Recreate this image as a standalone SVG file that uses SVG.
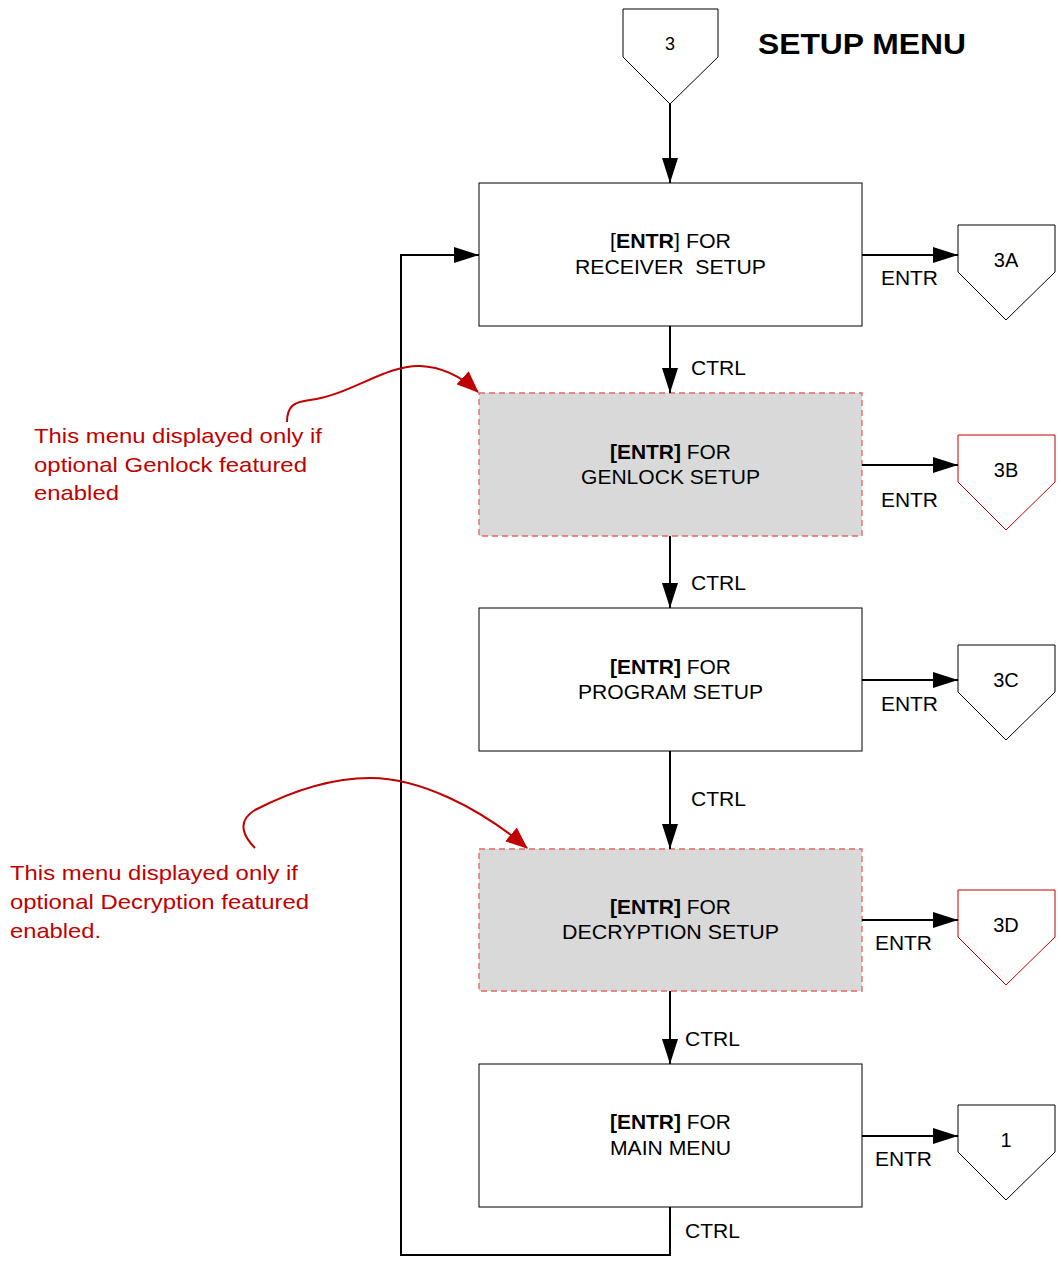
<svg xmlns="http://www.w3.org/2000/svg" width="1061" height="1268" viewBox="0 0 1061 1268">
<style>
text{font-family:"Liberation Sans",Arial,sans-serif;font-size:20px;fill:#000}
.c{text-anchor:middle}
.b{font-weight:bold}
.box{fill:#fff;stroke:#000;stroke-width:1}
.opt{fill:#d9d9d9;stroke:#e06666;stroke-width:1.3;stroke-dasharray:6 4}
.pg{fill:#fff;stroke:#000;stroke-width:1}
.pgr{fill:#fff;stroke:#c00000;stroke-width:1}
.ln{fill:none;stroke:#000;stroke-width:2}
.rl{fill:none;stroke:#c00000;stroke-width:2}
.note{fill:#c00000;font-size:21px}
</style>
<defs>
<marker id="ah" markerWidth="25" markerHeight="16" refX="25" refY="8" orient="auto" markerUnits="userSpaceOnUse"><path d="M0,0 L25,8 L0,16 z" fill="#000"/></marker>
<marker id="ahr" markerWidth="22" markerHeight="18" refX="21" refY="9" orient="auto" markerUnits="userSpaceOnUse"><path d="M0,0 L22,9 L0,18 z" fill="#c00000"/></marker>
</defs>
<text x="758" y="54" class="b" style="font-size:30px" textLength="208" lengthAdjust="spacingAndGlyphs">SETUP MENU</text>
<g id="conn3"><path class="pg" d="M623,9 H718 V57 L670,104 L623,57 Z"/><text x="670" y="50" class="c" style="font-size:18px">3</text></g>
<g id="n1"><rect class="box" x="479" y="183" width="383" height="143"/><text x="610" y="248" textLength="121" lengthAdjust="spacingAndGlyphs">[<tspan class="b">ENTR</tspan>] FOR</text><text x="575" y="274" xml:space="preserve" textLength="191" lengthAdjust="spacingAndGlyphs">RECEIVER  SETUP</text></g>
<g id="n2"><rect class="opt" x="479" y="393" width="383" height="143"/><text x="610" y="459" textLength="121" lengthAdjust="spacingAndGlyphs"><tspan class="b">[ENTR]</tspan> FOR</text><text x="581" y="484" textLength="179" lengthAdjust="spacingAndGlyphs">GENLOCK SETUP</text></g>
<g id="n3"><rect class="box" x="479" y="608" width="383" height="143"/><text x="610" y="674" textLength="121" lengthAdjust="spacingAndGlyphs"><tspan class="b">[ENTR]</tspan> FOR</text><text x="578" y="699" textLength="185" lengthAdjust="spacingAndGlyphs">PROGRAM SETUP</text></g>
<g id="n4"><rect class="opt" x="479" y="849" width="383" height="142"/><text x="610" y="914" textLength="121" lengthAdjust="spacingAndGlyphs"><tspan class="b">[ENTR]</tspan> FOR</text><text x="562" y="939" textLength="217" lengthAdjust="spacingAndGlyphs">DECRYPTION SETUP</text></g>
<g id="n5"><rect class="box" x="479" y="1064" width="383" height="143"/><text x="610" y="1129" textLength="121" lengthAdjust="spacingAndGlyphs"><tspan class="b">[ENTR]</tspan> FOR</text><text x="610" y="1155" textLength="121" lengthAdjust="spacingAndGlyphs">MAIN MENU</text></g>
<g id="c3A"><path class="pg" d="M958,225 H1055 V272 L1006,320 L958,272 Z"/><text x="1006" y="267" class="c">3A</text></g>
<g id="c3B"><path class="pgr" d="M958,435 H1055 V482 L1006,530 L958,482 Z"/><text x="1006" y="477" class="c">3B</text></g>
<g id="c3C"><path class="pg" d="M958,645 H1055 V692 L1006,740 L958,692 Z"/><text x="1006" y="687" class="c">3C</text></g>
<g id="c3D"><path class="pgr" d="M958,890 H1055 V937 L1006,985 L958,937 Z"/><text x="1006" y="932" class="c">3D</text></g>
<g id="c1"><path class="pg" d="M958,1105 H1055 V1152 L1006,1200 L958,1152 Z"/><text x="1006" y="1147" class="c">1</text></g>
<g id="connectors">
<path class="ln" d="M670,104 V183" marker-end="url(#ah)"/>
<path class="ln" d="M670,326 V393" marker-end="url(#ah)"/>
<path class="ln" d="M670,536 V608" marker-end="url(#ah)"/>
<path class="ln" d="M670,751 V849" marker-end="url(#ah)"/>
<path class="ln" d="M670,991 V1064" marker-end="url(#ah)"/>
<path class="ln" d="M670,1207 V1255 H401 V255 H479" marker-end="url(#ah)"/>
<path class="ln" d="M862,255 H958" marker-end="url(#ah)"/>
<path class="ln" d="M862,465 H958" marker-end="url(#ah)"/>
<path class="ln" d="M862,680 H958" marker-end="url(#ah)"/>
<path class="ln" d="M862,920 H958" marker-end="url(#ah)"/>
<path class="ln" d="M862,1136 H958" marker-end="url(#ah)"/>
<text x="691" y="375" textLength="55" lengthAdjust="spacingAndGlyphs">CTRL</text>
<text x="691" y="590" textLength="55" lengthAdjust="spacingAndGlyphs">CTRL</text>
<text x="691" y="806" textLength="55" lengthAdjust="spacingAndGlyphs">CTRL</text>
<text x="685" y="1046" textLength="55" lengthAdjust="spacingAndGlyphs">CTRL</text>
<text x="685" y="1238" textLength="55" lengthAdjust="spacingAndGlyphs">CTRL</text>
<text x="881" y="285" textLength="57" lengthAdjust="spacingAndGlyphs">ENTR</text>
<text x="881" y="507" textLength="57" lengthAdjust="spacingAndGlyphs">ENTR</text>
<text x="881" y="711" textLength="57" lengthAdjust="spacingAndGlyphs">ENTR</text>
<text x="875" y="950" textLength="57" lengthAdjust="spacingAndGlyphs">ENTR</text>
<text x="875" y="1166" textLength="57" lengthAdjust="spacingAndGlyphs">ENTR</text>
<path class="rl" d="M287,422 C287,405 295,402 310,400 C350,395 385,365 420,366 C445,367 465,380 478,392" marker-end="url(#ahr)"/>
<path class="rl" d="M255,848 C245,838 235,822 255,810 C290,792 330,778 370,778 C420,778 480,808 527,848" marker-end="url(#ahr)"/>
</g>
<g id="note1"><text x="34" y="443" class="note" textLength="288" lengthAdjust="spacingAndGlyphs">This menu displayed only if</text><text x="34" y="472" class="note" textLength="273" lengthAdjust="spacingAndGlyphs">optional Genlock featured</text><text x="34" y="500" class="note" textLength="85" lengthAdjust="spacingAndGlyphs">enabled</text></g>
<g id="note2"><text x="10" y="880" class="note" textLength="288" lengthAdjust="spacingAndGlyphs">This menu displayed only if</text><text x="10" y="909" class="note" textLength="299" lengthAdjust="spacingAndGlyphs">optional Decryption featured</text><text x="10" y="938" class="note" textLength="91" lengthAdjust="spacingAndGlyphs">enabled.</text></g>
</svg>
